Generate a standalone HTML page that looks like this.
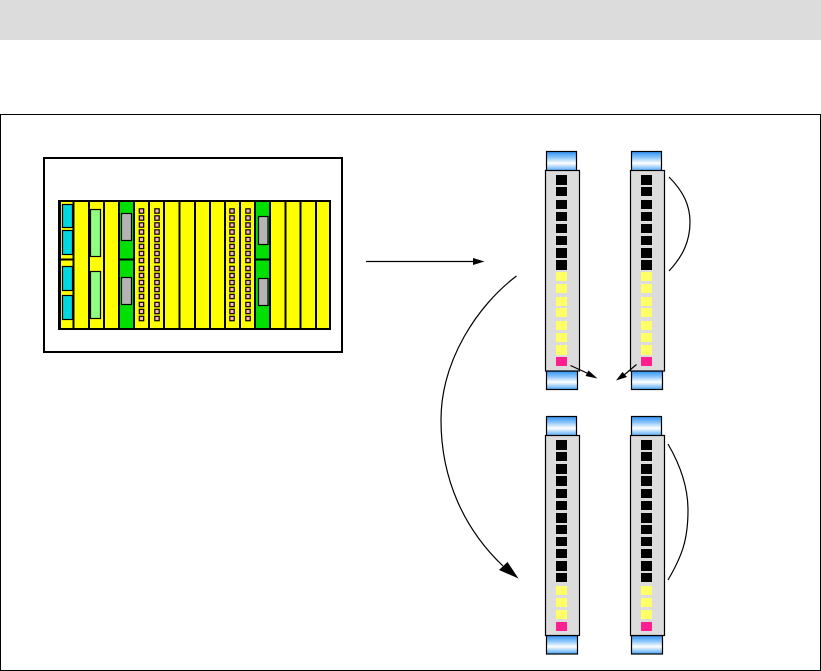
<!DOCTYPE html>
<html>
<head>
<meta charset="utf-8">
<style>
html,body{margin:0;padding:0;background:#fff;width:821px;height:671px;overflow:hidden}
svg{display:block}
</style>
</head>
<body>
<svg width="821" height="671" viewBox="0 0 821 671" xmlns="http://www.w3.org/2000/svg">
<defs>
<linearGradient id="cap" x1="0" y1="0" x2="0" y2="1">
<stop offset="0" stop-color="#2f90f5"/>
<stop offset=".3" stop-color="#88c4fa"/>
<stop offset=".6" stop-color="#ffffff"/>
<stop offset="1" stop-color="#48a4f5"/>
</linearGradient>
<g id="pinks" fill="#ffb0c8" stroke="#000" stroke-width="1.2">
<rect x="-2.2" y="208.8" width="4.4" height="4.4"/><rect x="-2.2" y="215.8" width="4.4" height="4.4"/>
<rect x="-2.2" y="222.8" width="4.4" height="4.4"/><rect x="-2.2" y="229.8" width="4.4" height="4.4"/>
<rect x="-2.2" y="237.3" width="4.4" height="4.4"/><rect x="-2.2" y="244.3" width="4.4" height="4.4"/>
<rect x="-2.2" y="251.3" width="4.4" height="4.4"/><rect x="-2.2" y="258.3" width="4.4" height="4.4"/>
<rect x="-2.2" y="266.3" width="4.4" height="4.4"/><rect x="-2.2" y="273.3" width="4.4" height="4.4"/>
<rect x="-2.2" y="280.3" width="4.4" height="4.4"/><rect x="-2.2" y="287.3" width="4.4" height="4.4"/>
<rect x="-2.2" y="294.3" width="4.4" height="4.4"/><rect x="-2.2" y="302.3" width="4.4" height="4.4"/>
<rect x="-2.2" y="309.3" width="4.4" height="4.4"/><rect x="-2.2" y="316.3" width="4.4" height="4.4"/>
</g>
<g id="stripTop">
<rect x="546.5" y="151.5" width="30" height="19.5" fill="url(#cap)" stroke="#000" stroke-width="1.2"/>
<rect x="546.5" y="371" width="31" height="18.5" fill="url(#cap)" stroke="#000" stroke-width="1.2"/>
<rect x="545.5" y="170.5" width="34" height="200.5" fill="#dcdcdc" stroke="#000" stroke-width="1.2"/>
<g fill="#000">
<rect x="556" y="175" width="11" height="10"/><rect x="556" y="187" width="11" height="9"/>
<rect x="556" y="200" width="11" height="9"/><rect x="556" y="212" width="11" height="9"/>
<rect x="556" y="224" width="11" height="9"/><rect x="556" y="236" width="11" height="9"/>
<rect x="556" y="248" width="11" height="10"/><rect x="556" y="260" width="11" height="10"/>
</g>
<g fill="#ffff66">
<rect x="556" y="272" width="11" height="9"/><rect x="556" y="284" width="11" height="9"/>
<rect x="556" y="297" width="11" height="9"/><rect x="556" y="308" width="11" height="9"/>
<rect x="556" y="321" width="11" height="9"/><rect x="556" y="333" width="11" height="9"/>
<rect x="556" y="345" width="11" height="10"/>
</g>
<rect x="556" y="357" width="11" height="9" fill="#ff1f8f"/>
</g>
<g id="stripBottom">
<rect x="546.5" y="416.5" width="30" height="19.5" fill="url(#cap)" stroke="#000" stroke-width="1.2"/>
<rect x="546.5" y="635.5" width="31" height="18.5" fill="url(#cap)" stroke="#000" stroke-width="1.2"/>
<rect x="545.5" y="435.5" width="34" height="200" fill="#dcdcdc" stroke="#000" stroke-width="1.2"/>
<g fill="#000">
<rect x="556" y="440" width="11" height="10"/><rect x="556" y="452" width="11" height="9"/>
<rect x="556" y="464" width="11" height="10"/><rect x="556" y="476" width="11" height="10"/>
<rect x="556" y="489" width="11" height="9"/><rect x="556" y="501" width="11" height="9"/>
<rect x="556" y="513" width="11" height="10"/><rect x="556" y="525" width="11" height="9"/>
<rect x="556" y="537" width="11" height="9"/><rect x="556" y="549" width="11" height="9"/>
<rect x="556" y="561" width="11" height="10"/><rect x="556" y="573" width="11" height="9"/>
</g>
<g fill="#ffff66">
<rect x="556" y="586" width="11" height="9"/><rect x="556" y="598" width="11" height="9"/>
<rect x="556" y="610" width="11" height="9"/>
</g>
<rect x="556" y="622" width="11" height="9" fill="#ff1f8f"/>
</g>
</defs>

<rect x="0" y="0" width="821" height="40" fill="#dcdcdc"/>
<rect x="0.5" y="114.5" width="820" height="556" fill="#fff" stroke="#000" stroke-width="1"/>

<rect x="44" y="158" width="298" height="194" fill="#fff" stroke="#000" stroke-width="2"/>

<rect x="59" y="201" width="271" height="128" fill="#ffff00"/>
<rect x="119" y="201" width="15" height="128" fill="#00e000"/>
<rect x="255" y="201" width="15" height="128" fill="#00e000"/>
<g stroke="#000" stroke-width="2" fill="none">
<rect x="59" y="201" width="271" height="128"/>
<path d="M73.5 201V329M89 201V329M104 201V329M119 201V329M134 201V329M149 201V329M164 201V329M179.5 201V329M195 201V329M210 201V329M225 201V329M240 201V329M255 201V329M270 201V329M285.5 201V329M300.5 201V329M316 201V329"/>
<path d="M59 259.5H73.5M119 259.5H134M255 259.5H270"/>
</g>
<rect x="58" y="200" width="3" height="130" fill="#000"/>

<g fill="#00d8e0" stroke="#000" stroke-width="1.2">
<rect x="62.5" y="204.5" width="10" height="23"/>
<rect x="62.5" y="230.5" width="10" height="24"/>
<rect x="62.5" y="266.5" width="10" height="24"/>
<rect x="62.5" y="295.5" width="10" height="24"/>
</g>
<g fill="#90ff80" stroke="#000" stroke-width="1.2">
<rect x="90.5" y="209.5" width="10" height="47"/>
<rect x="90.5" y="271.5" width="10" height="47"/>
</g>
<g fill="#b4b4b4" stroke="#000" stroke-width="1.2">
<rect x="121.5" y="213.5" width="10" height="27"/>
<rect x="121.5" y="277.5" width="10" height="27"/>
<rect x="258.5" y="216.5" width="9.5" height="28"/>
<rect x="258.5" y="278.5" width="9.5" height="27"/>
</g>
<use href="#pinks" transform="translate(141.5 0)"/>
<use href="#pinks" transform="translate(157 0)"/>
<use href="#pinks" transform="translate(232 0)"/>
<use href="#pinks" transform="translate(248 0)"/>

<use href="#stripTop"/>
<use href="#stripTop" transform="translate(85 0)"/>
<use href="#stripBottom"/>
<use href="#stripBottom" transform="translate(85 0)"/>

<g fill="none" stroke="#000" stroke-width="1.2">
<path d="M366 261.5H475"/>
<path d="M516.5 276C478 305 441 360 441 420C441 480 465 530 503 566"/>
<path d="M669 177C683 191 690 205 690 222C690 241 683 256 669 271"/>
<path d="M668 444C682 468 688 490 688 510C688 540 682 556 668 580"/>
<path d="M570.5 365.5L588 373.5"/>
<path d="M636.5 364.5L624 375"/>
</g>
<g fill="#000">
<path d="M473 258L484.5 261.5L473 265Z"/>
<path d="M518.5 578.5L499 570L507.5 562Z"/>
<path d="M597.5 378.5L585.5 376L588.5 370.5Z"/>
<path d="M616 380.5L622.5 372L627 377Z"/>
</g>
</svg>
</body>
</html>
